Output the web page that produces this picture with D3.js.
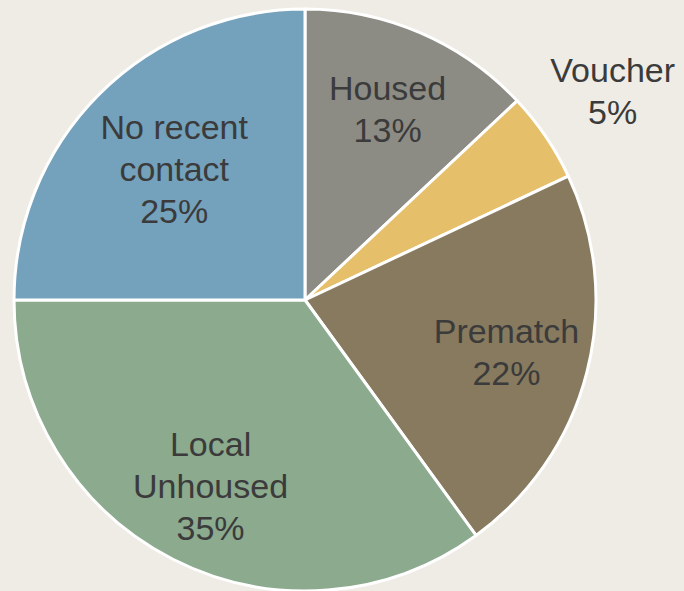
<!DOCTYPE html>
<html>
<head>
<meta charset="utf-8">
<script src="https://cdn.jsdelivr.net/npm/d3@7"></script>
<style>
  body { margin: 0; background: #EFECE5; }
  svg { display: block; }
</style>
</head>
<body>
<div id="chart"></div>
<script>
const categories = ["Housed", "Voucher", "Prematch", "Local Unhoused", "No recent contact"];
const labelLines = [["Housed"], ["Voucher"], ["Prematch"], ["Local", "Unhoused"], ["No recent", "contact"]];
const values = [13, 5, 22, 35, 25];
const colors = ["#8C8C85", "#E5BF69", "#877A5F", "#8BAA8E", "#74A2BC"];

const width = 684, height = 591;
const cx = 305, cy = 300, radius = 291;

const svg = d3.select("#chart").append("svg")
    .attr("width", width)
    .attr("height", height);

const g = svg.append("g").attr("transform", `translate(${cx},${cy})`);

const pie = d3.pie().sort(null).value(d => d.value);
const data = pie(categories.map((c, i) => ({ name: c, value: values[i], lines: labelLines[i], color: colors[i] })));

const arc = d3.arc().innerRadius(0).outerRadius(radius);

g.selectAll("path")
    .data(data)
    .enter()
    .append("path")
    .attr("d", arc)
    .attr("fill", d => d.data.color)
    .attr("stroke", "#fff")
    .attr("stroke-width", 3)
    .attr("stroke-linejoin", "round");

// label radius: small slices go outside, the 3-line label sits a bit closer in
function labelRadius(d) {
    if (d.data.value < 8) return 372;
    if (d.data.lines.length > 1 && d.data.value < 30) return 185;
    return 208;
}
const lineH = 42;

data.forEach(d => {
    const r = labelRadius(d);
    const [x, y] = d3.arc().innerRadius(r).outerRadius(r).centroid(d);
    const lines = d.data.lines.concat([d.data.value + "%"]);
    const t = g.append("text")
        .attr("text-anchor", "middle")
        .attr("fill", "#3B3B3B")
        .style("font-family", "'Liberation Sans', Arial, sans-serif")
        .style("font-size", "34px");
    lines.forEach((l, i) => {
        t.append("tspan")
            .attr("x", x)
            .attr("y", y + (i - (lines.length - 1) / 2) * lineH)
            .attr("dy", "0.36em")
            .text(l);
    });
});
</script>
</body>
</html>
